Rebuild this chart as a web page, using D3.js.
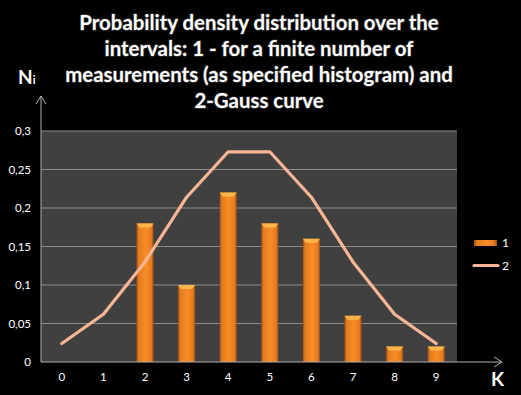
<!DOCTYPE html>
<html>
<head>
<meta charset="utf-8">
<script src="https://cdn.jsdelivr.net/npm/d3@7"></script>
<style>
  body { margin: 0; background: #000; }
  svg { display: block; }
  text { font-family: Lato, "Open Sans", sans-serif; fill: #fff; }
</style>
</head>
<body>
<svg width="521" height="395"></svg>
<script>
const categories = ['0', '1', '2', '3', '4', '5', '6', '7', '8', '9'];
const histogram = [0, 0, 0.18, 0.1, 0.22, 0.18, 0.16, 0.06, 0.02, 0.02];
const gauss = [0.024, 0.062, 0.13, 0.214, 0.273, 0.273, 0.214, 0.13, 0.062, 0.024];
const yTicks = [0, 0.05, 0.1, 0.15, 0.2, 0.25, 0.3];
const titleLines = [
  'Probability density distribution over the',
  'intervals: 1 - for a finite number of',
  'measurements (as specified histogram) and',
  '2-Gauss curve'
];

const svg = d3.select('svg');
const plot = {left: 41, right: 457, top: 131, bottom: 362};

const x = d3.scaleBand()
    .domain(categories)
    .range([plot.left, plot.right]);
const y = d3.scaleLinear()
    .domain([0, 0.3])
    .range([plot.bottom, plot.top]);

const defs = svg.append('defs');
const grad = defs.append('linearGradient')
    .attr('id', 'barGrad')
    .attr('x1', '0').attr('x2', '1').attr('y1', '0').attr('y2', '0');
grad.append('stop').attr('offset', '0').attr('stop-color', '#9c4f12');
grad.append('stop').attr('offset', '0.12').attr('stop-color', '#e27a1f');
grad.append('stop').attr('offset', '0.55').attr('stop-color', '#f98d26');
grad.append('stop').attr('offset', '0.88').attr('stop-color', '#e27a1f');
grad.append('stop').attr('offset', '1').attr('stop-color', '#9c4f12');

// plot background
svg.append('rect')
    .attr('x', plot.left)
    .attr('y', plot.top)
    .attr('width', plot.right - plot.left)
    .attr('height', plot.bottom - plot.top)
    .attr('fill', '#404040');

// gridlines
svg.append('g')
    .selectAll('line')
    .data(yTicks.filter((d) => d > 0))
    .enter()
    .append('line')
    .attr('x1', plot.left)
    .attr('x2', plot.right)
    .attr('y1', (d) => y(d))
    .attr('y2', (d) => y(d))
    .attr('stroke', '#8c8c8c')
    .attr('stroke-width', 1);

// y tick labels
svg.append('g')
    .selectAll('text')
    .data(yTicks)
    .enter()
    .append('text')
    .attr('x', 31)
    .attr('y', (d) => y(d) + 4)
    .attr('text-anchor', 'end')
    .style('font-size', '11.5px')
    .text((d) => String(d).replace('.', ','));

// x tick labels
svg.append('g')
    .selectAll('text')
    .data(categories)
    .enter()
    .append('text')
    .attr('x', (d) => x(d) + x.bandwidth() / 2)
    .attr('y', 381)
    .attr('text-anchor', 'middle')
    .style('font-size', '11.5px')
    .text((d) => d);

// bars
const barW = 17;
const barG = svg.append('g')
    .selectAll('g')
    .data(histogram.map((v, i) => ({k: categories[i], v: v})).filter((d) => d.v > 0))
    .enter()
    .append('g');

barG.append('rect')
    .attr('x', (d) => x(d.k) + x.bandwidth() / 2 - barW / 2)
    .attr('y', (d) => y(d.v))
    .attr('width', barW)
    .attr('height', (d) => y(0) - y(d.v))
    .attr('fill', 'url(#barGrad)');

barG.append('path')
    .attr('d', (d) => {
      const x0 = x(d.k) + x.bandwidth() / 2 - barW / 2;
      const y0 = y(d.v);
      return `M${x0},${y0}h${barW}l-3,4h${-(barW - 6)}z`;
    })
    .attr('fill', '#fdb54a');

// gauss curve
svg.append('path')
    .datum(gauss)
    .attr('d', d3.line()
        .x((d, i) => x(categories[i]) + x.bandwidth() / 2)
        .y((d) => y(d)))
    .attr('fill', 'none')
    .attr('stroke', '#f8b595')
    .attr('stroke-width', 3.2)
    .attr('stroke-linejoin', 'round')
    .attr('stroke-linecap', 'round');

// axes with arrows
const axisG = svg.append('g')
    .attr('stroke', '#b0b0b0')
    .attr('fill', 'none')
    .attr('stroke-width', 1);
axisG.append('line')
    .attr('x1', plot.left).attr('x2', plot.left)
    .attr('y1', plot.bottom).attr('y2', 96);
axisG.append('path')
    .attr('d', `M${plot.left - 5},${104}L${plot.left},96L${plot.left + 5},104`);
axisG.append('line')
    .attr('x1', plot.left).attr('x2', 502)
    .attr('y1', plot.bottom).attr('y2', plot.bottom);
axisG.append('path')
    .attr('d', `M494,${plot.bottom - 5}L502,${plot.bottom}L494,${plot.bottom + 5}`);

// axis names
const ni = svg.append('text')
    .attr('x', 18)
    .attr('y', 84)
    .style('font-size', '19px')
    .style('font-weight', 'bold');
ni.append('tspan').text('N');
ni.append('tspan').style('font-size', '11px').text('i');

svg.append('text')
    .attr('x', 491)
    .attr('y', 386)
    .style('font-size', '19px')
    .style('font-weight', 'bold')
    .text('K');

// title
svg.append('g')
    .selectAll('text')
    .data(titleLines)
    .enter()
    .append('text')
    .attr('x', 259)
    .attr('y', (d, i) => 30 + i * 26)
    .attr('text-anchor', 'middle')
    .style('font-size', '20.4px')
    .style('font-weight', 'bold')
    .style('paint-order', 'stroke')
    .style('stroke', '#333')
    .style('stroke-width', '1.5px')
    .text((d) => d);

// legend
const leg = svg.append('g');
leg.append('rect')
    .attr('x', 474).attr('y', 240)
    .attr('width', 23).attr('height', 6)
    .attr('fill', 'url(#barGrad)');
leg.append('line')
    .attr('x1', 474).attr('x2', 498)
    .attr('y1', 265.5).attr('y2', 265.5)
    .attr('stroke', '#f8b595')
    .attr('stroke-width', 3.2)
    .attr('stroke-linecap', 'round');
leg.selectAll('text')
    .data(['1', '2'])
    .enter()
    .append('text')
    .attr('x', 502)
    .attr('y', (d, i) => 247 + i * 23)
    .style('font-size', '12px')
    .text((d) => d);
</script>
</body>
</html>
